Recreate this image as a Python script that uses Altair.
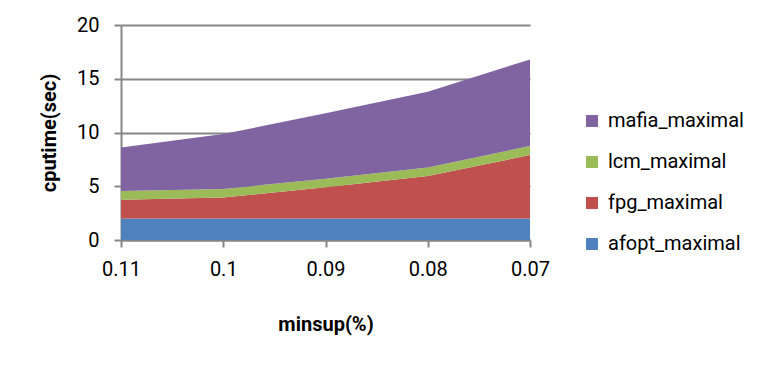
import altair as alt
import pandas as pd

categories = ["0.11", "0.1", "0.09", "0.08", "0.07"]
afopt_maximal = [2.0, 2.0, 2.0, 2.0, 2.0]
fpg_maximal = [1.75, 1.95, 2.9, 3.95, 5.9]
lcm_maximal = [0.8, 0.8, 0.8, 0.8, 0.85]
mafia_maximal = [4.05, 5.1, 6.1, 7.05, 8.05]

series_names = ["afopt_maximal", "fpg_maximal", "lcm_maximal", "mafia_maximal"]
series_values = [afopt_maximal, fpg_maximal, lcm_maximal, mafia_maximal]
colors = ["#4F81BD", "#C0504D", "#9BBB59", "#8064A2"]

rows = []
for si, (name, vals) in enumerate(zip(series_names, series_values)):
    for c, v in zip(categories, vals):
        rows.append({"minsup": c, "series": name, "value": v, "order": si})
df = pd.DataFrame(rows)

FONT = "Roboto, sans-serif"
GRAY = "#868686"

chart = alt.Chart(df).mark_area(opacity=1).encode(
    x=alt.X("minsup:O", sort=categories, title="minsup(%)",
            scale=alt.Scale(type="point", padding=0),
            axis=alt.Axis(labelAngle=0, labelFontSize=20, labelPadding=12,
                          titleFontSize=20, titleFontWeight="bold", titlePadding=35,
                          tickSize=7, tickColor=GRAY, domainColor=GRAY,
                          domainWidth=2, tickWidth=2, grid=False)),
    y=alt.Y("value:Q", stack="zero", title="cputime(sec)",
            scale=alt.Scale(domain=[0, 20], nice=False),
            axis=alt.Axis(values=[0, 5, 10, 15, 20], labelFontSize=20, labelPadding=15,
                          titleFontSize=20, titleFontWeight="bold", titlePadding=17,
                          tickSize=7, tickColor=GRAY, domainColor=GRAY,
                          domainWidth=2, tickWidth=2, grid=True, gridColor=GRAY,
                          gridWidth=2)),
    color=alt.Color("series:N",
                    scale=alt.Scale(domain=series_names[::-1], range=colors[::-1]),
                    legend=alt.Legend(title=None, orient="none", legendX=461, legendY=86,
                                      symbolType="square", symbolSize=144,
                                      symbolStrokeWidth=0, labelFontSize=20,
                                      rowPadding=21, labelOffset=6)),
    order=alt.Order("order:Q", sort="ascending"),
).properties(
    width=409, height=215,
    autosize=alt.AutoSizeParams(type="none"),
    padding={"left": 113, "top": 17, "right": 230, "bottom": 110},
).configure(
    font=FONT,
).configure_axis(
    labelColor="#000000", titleColor="#000000", labelFont=FONT, titleFont=FONT,
).configure_legend(
    labelFont=FONT, labelColor="#000000",
).configure_view(stroke=None)

chart.save("out.html", embed_options={"renderer": "svg", "actions": False})
